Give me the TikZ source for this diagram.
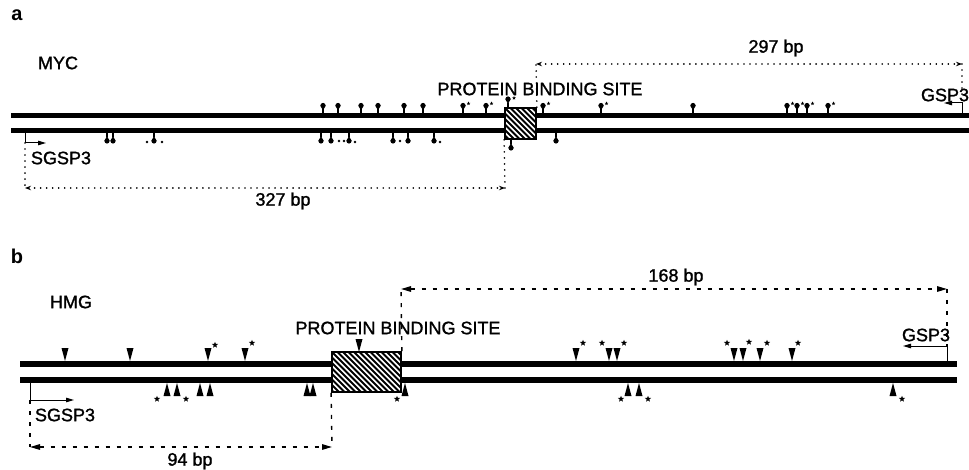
\documentclass[tikz,border=0pt]{standalone}
\usepackage{fontspec}
\setmainfont{Liberation Sans}
\newfontfamily\lblfont{Liberation Sans}[FakeBold=1.3]
\usetikzlibrary{arrows.meta,shapes.geometric}
\newcommand\mpin[3]{% x, base y, direction (-1 up, +1 down)
  \fill (#1,#2+#3*8) circle (2.6pt);
  \fill (#1-2.6,#2+#3*8) -- (#1+2.6,#2+#3*8) -- (#1,#2+#3*3) -- cycle;
  \draw[line width=1.1pt] (#1,#2) -- (#1,#2+#3*4);}
\newcommand\tstar[3]{\node[star,star points=5,star point ratio=2.3,fill=black,inner sep=0pt,minimum size=#3pt] at (#1,#2) {};}
\newcommand\tdn[3]{\fill (#1-3.5,#2) -- (#1+3.5,#2) -- (#1,#3) -- cycle;}
\begin{document}
\begin{tikzpicture}[x=1pt,y=-1pt,
  lbl/.style={font=\lblfont\fontsize{18}{18}\selectfont, inner sep=0pt},
  panel/.style={font=\fontsize{20}{20}\selectfont\bfseries, inner sep=0pt},
  strandA/.style={line width=5pt},
  strandB/.style={line width=6pt},
  dotl/.style={line width=1.8pt, line cap=round, dash pattern=on 0.01pt off 6pt},
  dashl/.style={line width=1.4pt, dash pattern=on 4pt off 7pt},
  dimA/.style={dotl, arrows={Stealth[length=6pt,width=4.5pt]-Stealth[length=6pt,width=4.5pt]}},
  dimB/.style={dashl, arrows={Triangle[length=10pt,width=5.5pt]-Triangle[length=10pt,width=5.5pt]}},
  primer/.style={line width=1pt, -{Triangle[length=8pt,width=4.5pt]}},
  hatchbox/.style={draw, line width=1.8pt, fill=white, inner sep=0pt,
    path picture={\foreach \k in {-12,...,16}{\draw[line width=2pt] ([xshift={\k*5.5pt}]path picture bounding box.north west) -- ++(70pt,-70pt);}}},
]
\useasboundingbox (0,0) rectangle (969,470);

% ---------------- panel a ----------------
\node[panel] (la) at (17,15) {a};
\node[lbl] (myc) at (58,63) {MYC};
\draw[strandA] (11,116) -- (969,116);
\draw[strandA] (11,130.5) -- (969,130.5);
\node[hatchbox, minimum width=31pt, minimum height=31pt] (boxA) at (520.5,123.5) {};
\node[lbl] (pbsA) at (540,89) {PROTEIN BINDING SITE};
\node[lbl] (t297) at (776,48) {297 bp};
\node[lbl] (t327) at (283,201) {327 bp};
\node[lbl] (sgA) at (61,158) {SGSP3};
\node[lbl] (gA) at (945,95) {GSP3};

\coordinate (a297l) at (536,64);
\coordinate (a297r) at (962,64);
\coordinate (gspAc) at (962,103);
\coordinate (sgAc) at (25,143);
\coordinate (a327l) at (25,188);
\coordinate (a327r) at (505,188);
\draw[dotl] (boxA.north east) -- (a297l);
\draw[dimA] (a297l) -- (a297r);
\draw[dotl] (a297r) -- (gspAc);
\draw[primer] (962,113.5) -- (gspAc) -- (944,103);
\draw[primer] (25,133) -- (sgAc) -- (46,143);
\draw[dotl] (sgAc) -- (a327l);
\draw[dotl] (boxA.south west) -- (a327r);
\draw[dimA] (a327l) -- (a327r);

% top pins
\foreach \x in {323,338,361,378,404,423,463,486,543,601,693,787,797,807,828} {\mpin{\x}{113.5}{-1}}
\mpin{508}{107}{-1}
\foreach \x in {463,486,543,601,787,797,807,828} {\tstar{\x+5.5}{103.5}{4}}
\tstar{514}{98}{4}
% bottom pins
\foreach \x in {107,113,154,321,331,349,393,408,434,556} {\mpin{\x}{133}{1}}
\mpin{511}{140}{1}
\foreach \p in {(147,142),(162,142),(339,141),(344,141),(355,142),(400,141),(440,142)} {\fill \p circle (1.3pt);}

% ---------------- panel b ----------------
\node[panel] (lb) at (17,256) {b};
\node[lbl] (hmg) at (71,302) {HMG};
\draw[strandB] (20,364) -- (957,364);
\draw[strandB] (20,380) -- (957,380);
\node[hatchbox, minimum width=69pt, minimum height=40pt] (boxB) at (366.5,372) {};
\node[lbl] (pbsB) at (398,328) {PROTEIN BINDING SITE};
\node[lbl] (t168) at (676,277) {168 bp};
\node[lbl] (t94) at (190,461) {94 bp};
\node[lbl] (sgB) at (65,415) {SGSP3};
\node[lbl] (gB) at (926,335) {GSP3};

\coordinate (b168l) at (401,289);
\coordinate (b168r) at (947,289);
\coordinate (gspBc) at (947,346);
\coordinate (sgBc) at (30,400);
\coordinate (b94l) at (30,447);
\coordinate (b94r) at (332,447);
\draw[dashl] (boxB.north east) -- (b168l);
\draw[dimB] (b168l) -- (b168r);
\draw[dashl] (b168r) -- (gspBc);
\draw[primer] (947,361) -- (gspBc) -- (903,346);
\draw[primer] (30,383) -- (sgBc) -- (74,400);
\draw[dashl] (sgBc) -- (b94l);
\draw[dashl] (boxB.south west) -- (b94r);
\draw[dimB] (b94l) -- (b94r);

% top triangles
\foreach \x in {65,130,208,245,576,609,617,734,743,760,792} {\tdn{\x}{348}{361}}
\tdn{359}{339}{352}
\foreach \p in {(215,345),(252,343),(583,343),(602,343),(624,343),(727,343),(749,342),(767,343),(798,343)} {\node[star,star points=5,star point ratio=2.3,fill=black,inner sep=0pt,minimum size=6.5pt] at \p {};}
% bottom triangles
\foreach \x in {167,177,200,210,307,313,405,628,639,893} {\tdn{\x}{396}{383}}
\foreach \p in {(157,399),(186,399),(397,399),(621,399),(648,399),(902,399)} {\node[star,star points=5,star point ratio=2.3,fill=black,inner sep=0pt,minimum size=6.5pt] at \p {};}
\end{tikzpicture}
\end{document}
